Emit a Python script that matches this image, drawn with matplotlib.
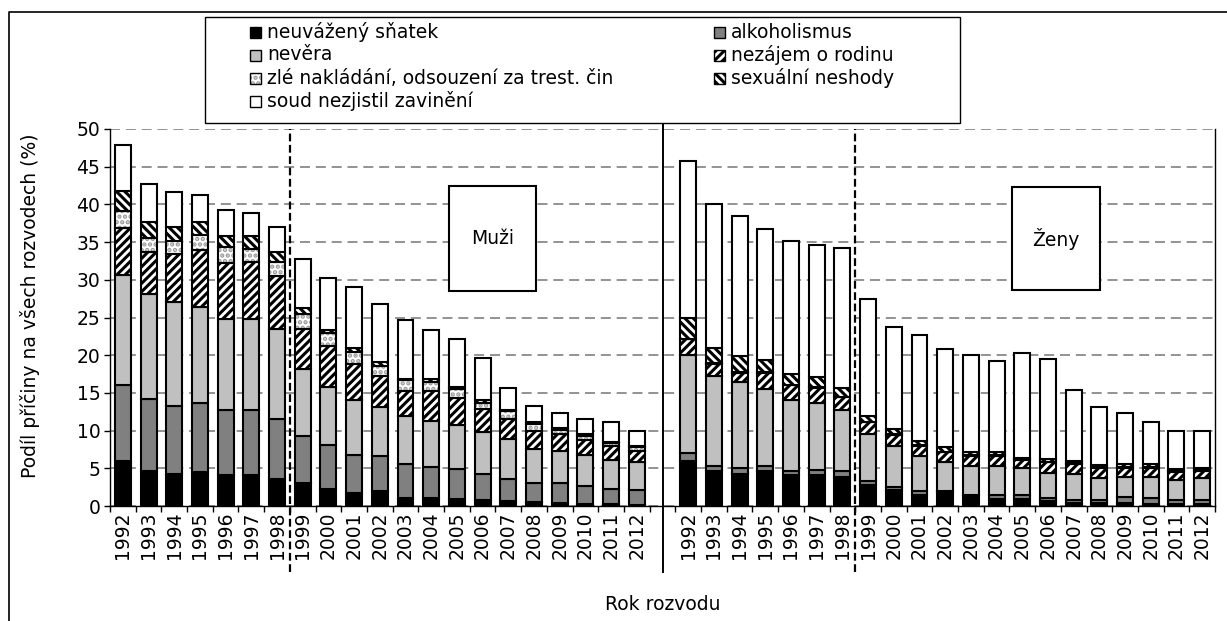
import numpy as np
import matplotlib.pyplot as plt
from matplotlib.patches import Rectangle

plt.rcParams['font.family'] = ['DejaVu Sans']
plt.rcParams['hatch.linewidth'] = 2.2

years = [str(y) for y in range(1992, 2013)]
causes = ["neuvážený sňatek", "alkoholismus", "nevěra", "nezájem o rodinu",
          "zlé nakládání, odsouzení za trest. čin", "sexuální neshody",
          "soud nezjistil zavinění"]

# muzi
m_snatek = [6.0, 4.6, 4.3, 4.5, 4.1, 4.1, 3.6, 3.0, 2.2, 1.7, 2.0, 1.1, 1.1, 0.9, 0.8, 0.6, 0.5, 0.4, 0.3, 0.2, 0.1]
m_alk = [10.0, 9.6, 8.9, 9.2, 8.6, 8.6, 8.0, 6.3, 5.9, 5.1, 4.6, 4.5, 4.1, 4.0, 3.4, 3.0, 2.6, 2.7, 2.3, 2.1, 2.0]
m_nevera = [14.7, 13.9, 13.8, 12.7, 12.1, 12.1, 11.9, 8.9, 7.7, 7.2, 6.5, 6.3, 6.1, 5.9, 5.6, 5.3, 4.5, 4.2, 4.2, 3.8, 3.7]
m_nezajem = [6.2, 5.6, 6.4, 7.5, 7.4, 7.5, 7.0, 5.3, 5.4, 4.8, 4.2, 3.4, 4.0, 3.5, 3.0, 2.7, 2.4, 2.2, 2.0, 1.8, 1.5]
m_zle = [2.2, 1.9, 1.8, 2.0, 2.2, 1.8, 1.9, 2.0, 1.7, 1.6, 1.3, 1.4, 1.1, 1.2, 0.9, 1.0, 0.9, 0.6, 0.5, 0.4, 0.5]
m_sex = [2.7, 2.1, 1.8, 1.7, 1.4, 1.7, 1.3, 0.8, 0.4, 0.6, 0.5, 0.1, 0.5, 0.3, 0.4, 0.1, 0.2, 0.2, 0.3, 0.2, 0.2]
m_soud = [6.1, 5.0, 4.6, 3.7, 3.4, 3.1, 3.3, 6.5, 6.9, 8.1, 7.7, 7.9, 6.4, 6.4, 5.5, 2.9, 2.1, 2.1, 2.0, 2.6, 2.0]

# zeny
z_snatek = [6.0, 4.6, 4.3, 4.6, 4.1, 4.1, 3.8, 2.8, 2.1, 1.5, 1.9, 1.4, 0.9, 0.9, 0.6, 0.4, 0.4, 0.4, 0.3, 0.2, 0.2]
z_alk = [1.0, 0.7, 0.7, 0.7, 0.5, 0.7, 0.8, 0.5, 0.4, 0.5, 0.1, 0.1, 0.5, 0.5, 0.5, 0.4, 0.4, 0.8, 0.8, 0.6, 0.6]
z_nevera = [13.0, 11.9, 11.4, 10.2, 9.4, 8.9, 8.1, 6.2, 5.5, 4.6, 3.8, 3.8, 3.9, 3.6, 3.3, 3.4, 2.9, 2.7, 2.8, 2.6, 2.9]
z_nezajem = [2.1, 1.6, 1.3, 2.2, 2.0, 2.0, 1.7, 1.6, 1.4, 1.4, 1.3, 1.3, 1.3, 1.1, 1.4, 1.4, 1.4, 1.2, 1.2, 1.1, 1.0]
z_zle = [0.1, 0.1, 0.1, 0.1, 0.1, 0.1, 0.1, 0.1, 0.1, 0.1, 0.1, 0.1, 0.1, 0.1, 0.1, 0.1, 0.1, 0.1, 0.1, 0.1, 0.1]
z_sex = [2.7, 2.1, 2.1, 1.6, 1.4, 1.3, 1.2, 0.8, 0.7, 0.5, 0.6, 0.5, 0.5, 0.2, 0.3, 0.3, 0.2, 0.4, 0.4, 0.3, 0.3]
z_soud = [20.9, 19.0, 18.5, 17.4, 17.7, 17.5, 18.5, 15.4, 13.5, 14.1, 13.0, 12.8, 12.0, 13.9, 13.3, 9.4, 7.7, 6.7, 5.6, 5.0, 4.8]

men = [m_snatek, m_alk, m_nevera, m_nezajem, m_zle, m_sex, m_soud]
women = [z_snatek, z_alk, z_nevera, z_nezajem, z_zle, z_sex, z_soud]

# face colour, hatch
styles = [("black", None), ("#808080", None), ("#c0c0c0", None),
          ("white", "////"), ("white", "..."), ("white", "\\\\\\\\"), ("white", None)]
dot_color = "#9a9a9a"
fs = 13.5

fig = plt.figure(figsize=(12.27, 6.21), dpi=100)
ax = fig.add_axes([110 / 1227, 115 / 621, 1105 / 1227, 377 / 621])

x_m = np.arange(21)
x_z = np.arange(22, 43)
w = 0.62
for xs, group in [(x_m, men), (x_z, women)]:
    bottom = np.zeros(len(xs))
    for vals, (fc, h) in zip(group, styles):
        vals = np.array(vals)
        if h == "...":
            ax.bar(xs, vals, w, bottom=bottom, color="white", edgecolor=dot_color,
                   hatch=h, linewidth=0, zorder=2)
            ax.bar(xs, vals, w, bottom=bottom, fill=False, edgecolor="black",
                   linewidth=1.5, zorder=3)
        else:
            ax.bar(xs, vals, w, bottom=bottom, color=fc, edgecolor="black",
                   hatch=h, linewidth=1.5, zorder=3)
        bottom += vals

ax.set_xlim(-0.5, 42.5)
ax.set_ylim(0, 50)
ax.set_yticks(range(0, 51, 5))
ax.set_xticks(list(x_m) + list(x_z))
ax.set_xticklabels(years + years, rotation=90)
ax.set_xticks(np.arange(-0.5, 43, 1), minor=True)
ax.tick_params(axis="x", which="major", length=0, pad=4, labelsize=fs)
ax.tick_params(axis="x", which="minor", length=4, width=1, direction="out")
ax.tick_params(axis="y", length=4, width=1, direction="out", labelsize=fs, pad=3)

ax.yaxis.grid(True, color="#808080", linestyle=(0, (6, 3.5)), linewidth=1.2)
ax.set_axisbelow(True)
ax.spines["top"].set_visible(False)
for s in ["left", "right", "bottom"]:
    ax.spines[s].set_linewidth(1.0)

ax.set_ylabel("Podíl příčiny na všech rozvodech (%)", fontsize=fs)
ax.yaxis.set_label_coords(-0.063, 0.53)
ax.set_xlabel("Rok rozvodu", fontsize=fs)
ax.xaxis.set_label_coords(0.5, -0.235)

# dividers
for xv in [6.5, 28.5]:
    ax.axvline(xv, ymin=-0.175, ymax=1, color="black", linewidth=1.6,
               linestyle=(0, (3.5, 1.6)), clip_on=False, zorder=4)
ax.axvline(21, ymin=-0.175, ymax=1.016, color="black", linewidth=1.4,
           clip_on=False, zorder=4)

# overlay in pixel units for frame, legend and group boxes
ov = fig.add_axes([0, 0, 1, 1], zorder=5)
ov.set_xlim(0, 1227)
ov.set_ylim(621, 0)
ov.axis("off")
ov.patch.set_visible(False)

ov.plot([9, 9, 1227], [621, 12, 12], color="black", linewidth=1.2)

ov.add_patch(Rectangle((205, 17), 755, 106, facecolor="white",
                       edgecolor="black", linewidth=1.0))
col_x = [250, 714]
for i, (fc, h) in enumerate(styles):
    col = i % 2 if i < 6 else 0
    row = i // 2
    lx = col_x[col]
    ly = 32 + 23 * row
    if h == "...":
        ov.add_patch(Rectangle((lx, ly - 5), 11, 11, facecolor="white",
                               edgecolor=dot_color, hatch=h, linewidth=0))
        ov.add_patch(Rectangle((lx, ly - 5), 11, 11, fill=False,
                               edgecolor="black", linewidth=1.0))
    else:
        ov.add_patch(Rectangle((lx, ly - 5), 11, 11, facecolor=fc,
                               edgecolor="black", hatch=h, linewidth=1.0))
    ov.text(lx + 17, ly, causes[i], fontsize=fs, va="center", ha="left")

for bx, by, bw, bh, lab in [(449, 186, 87, 105, "Muži"), (1012, 187, 88, 103, "Ženy")]:
    ov.add_patch(Rectangle((bx, by), bw, bh, facecolor="white",
                           edgecolor="black", linewidth=1.5))
    ov.text(bx + bw / 2, by + bh / 2, lab, fontsize=fs, ha="center", va="center")

fig.savefig("out.png", dpi=100)
